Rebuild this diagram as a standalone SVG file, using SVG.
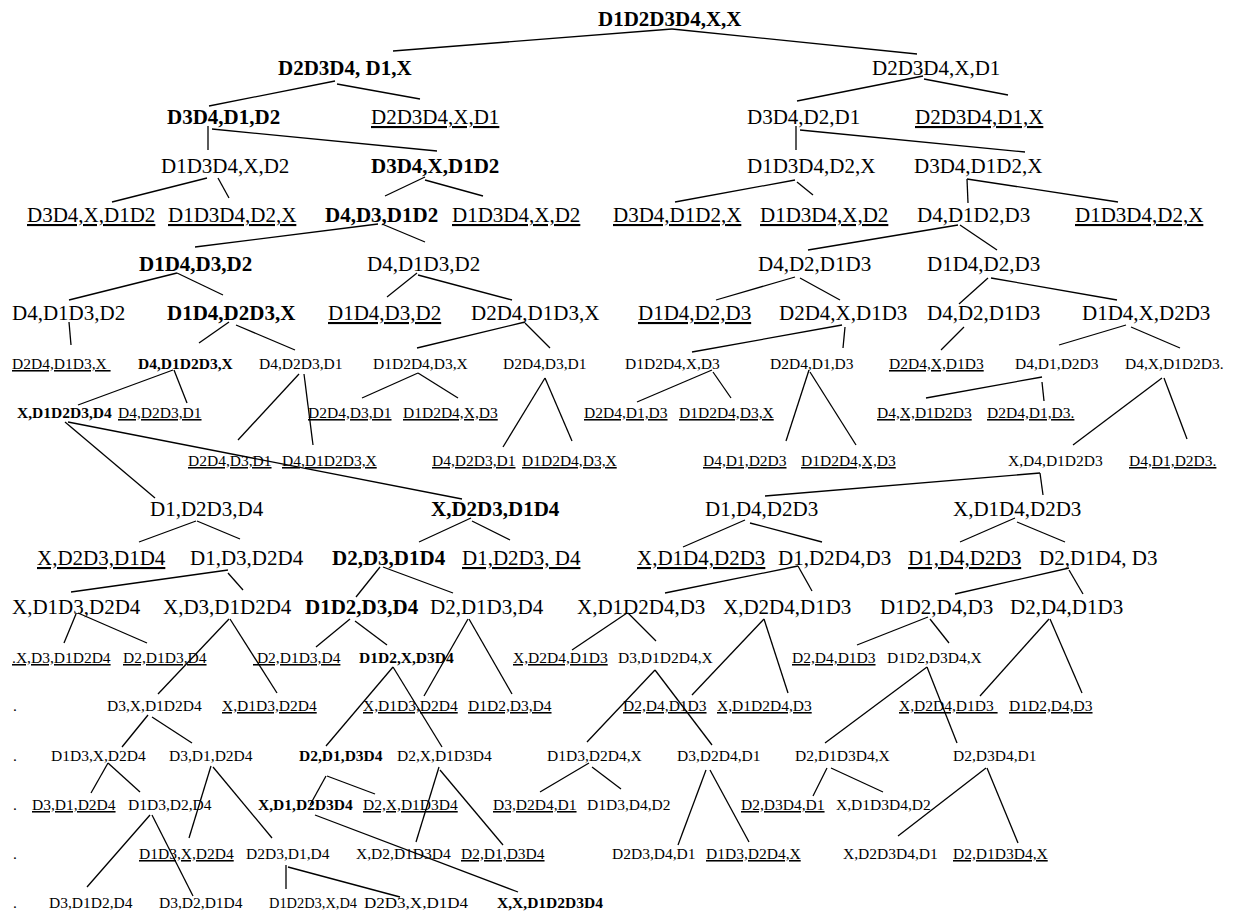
<svg xmlns="http://www.w3.org/2000/svg" width="1234" height="913" viewBox="0 0 1234 913">
<style>
text{font-family:"Liberation Serif","Times New Roman",serif;fill:#000}
.L{font-size:21px}
.S{font-size:15.5px}
.b{font-weight:bold}
.u{text-decoration:underline}
#connectors line{stroke:#000;stroke-width:1.3;fill:none}
</style>
<rect width="1234" height="913" fill="#fff"/>
<g id="connectors">
<line x1="672" y1="29" x2="393" y2="51"/><line x1="672" y1="29" x2="917" y2="54"/>
<line x1="335" y1="81" x2="209" y2="106"/><line x1="337" y1="84" x2="420" y2="99"/>
<line x1="923" y1="76" x2="797" y2="101"/><line x1="924" y1="79" x2="1008" y2="95"/>
<line x1="208" y1="126" x2="208" y2="150"/><line x1="212" y1="129" x2="437" y2="151"/>
<line x1="796" y1="126" x2="796" y2="150"/><line x1="800" y1="130" x2="1025" y2="152"/>
<line x1="207" y1="178" x2="112" y2="202"/><line x1="218" y1="178" x2="229" y2="198"/>
<line x1="425" y1="177" x2="385" y2="196"/><line x1="425" y1="180" x2="483" y2="196"/>
<line x1="795" y1="180" x2="675" y2="202"/><line x1="797" y1="182" x2="813" y2="195"/>
<line x1="967" y1="179" x2="968" y2="203"/><line x1="967" y1="179" x2="1118" y2="202"/>
<line x1="378" y1="224" x2="195" y2="247"/><line x1="382" y1="224" x2="425" y2="242"/>
<line x1="958" y1="225" x2="808" y2="250"/><line x1="960" y1="225" x2="997" y2="250"/>
<line x1="177" y1="273" x2="69" y2="300"/><line x1="177" y1="273" x2="223" y2="295"/>
<line x1="417" y1="273" x2="387" y2="297"/><line x1="418" y1="275" x2="512" y2="300"/>
<line x1="795" y1="277" x2="716" y2="300"/><line x1="800" y1="278" x2="840" y2="300"/>
<line x1="988" y1="278" x2="959" y2="304"/><line x1="991" y1="278" x2="1117" y2="300"/>
<line x1="69" y1="322" x2="71" y2="345"/>
<line x1="229" y1="322" x2="199" y2="343"/><line x1="236" y1="325" x2="295" y2="350"/>
<line x1="525" y1="322" x2="417" y2="348"/><line x1="525" y1="323" x2="550" y2="348"/>
<line x1="842" y1="325" x2="692" y2="352"/><line x1="845" y1="327" x2="843" y2="348"/>
<line x1="964" y1="327" x2="941" y2="350"/>
<line x1="1126" y1="325" x2="1059" y2="345"/><line x1="1131" y1="327" x2="1180" y2="348"/>
<line x1="173" y1="370" x2="78" y2="405"/><line x1="174" y1="370" x2="187" y2="403"/>
<line x1="299" y1="374" x2="238" y2="440"/><line x1="304" y1="374" x2="313" y2="445"/>
<line x1="418" y1="373" x2="362" y2="398"/><line x1="418" y1="373" x2="458" y2="398"/>
<line x1="545" y1="378" x2="503" y2="447"/><line x1="545" y1="378" x2="572" y2="441"/>
<line x1="712" y1="370" x2="637" y2="402"/><line x1="713" y1="372" x2="731" y2="398"/>
<line x1="809" y1="370" x2="786" y2="441"/><line x1="810" y1="372" x2="856" y2="445"/>
<line x1="1042" y1="377" x2="926" y2="398"/><line x1="1042" y1="382" x2="1044" y2="401"/>
<line x1="1162" y1="378" x2="1073" y2="445"/><line x1="1164" y1="378" x2="1187" y2="439"/>
<line x1="65" y1="422" x2="155" y2="498"/><line x1="68" y1="422" x2="462" y2="499"/>
<line x1="1040" y1="473" x2="765" y2="496"/><line x1="1040" y1="473" x2="1043" y2="495"/>
<line x1="196" y1="521" x2="139" y2="542"/><line x1="197" y1="521" x2="240" y2="539"/>
<line x1="471" y1="518" x2="419" y2="542"/><line x1="472" y1="521" x2="510" y2="540"/>
<line x1="745" y1="520" x2="683" y2="547"/><line x1="750" y1="523" x2="822" y2="542"/>
<line x1="1015" y1="518" x2="960" y2="542"/><line x1="1017" y1="522" x2="1065" y2="542"/>
<line x1="228" y1="570" x2="71" y2="592"/><line x1="228" y1="573" x2="243" y2="590"/>
<line x1="380" y1="567" x2="356" y2="597"/><line x1="383" y1="567" x2="453" y2="593"/>
<line x1="798" y1="566" x2="665" y2="593"/><line x1="798" y1="566" x2="812" y2="591"/>
<line x1="1069" y1="568" x2="955" y2="594"/><line x1="1069" y1="570" x2="1083" y2="594"/>
<line x1="76" y1="614" x2="64" y2="643"/><line x1="78" y1="613" x2="147" y2="643"/>
<line x1="229" y1="619" x2="158" y2="694"/><line x1="230" y1="619" x2="277" y2="693"/>
<line x1="350" y1="619" x2="316" y2="647"/><line x1="355" y1="621" x2="387" y2="645"/>
<line x1="468" y1="619" x2="424" y2="696"/><line x1="469" y1="619" x2="512" y2="694"/>
<line x1="627" y1="613" x2="572" y2="650"/><line x1="628" y1="613" x2="656" y2="641"/>
<line x1="764" y1="619" x2="692" y2="695"/><line x1="764" y1="619" x2="788" y2="693"/>
<line x1="928" y1="617" x2="857" y2="645"/><line x1="930" y1="619" x2="949" y2="643"/>
<line x1="1049" y1="619" x2="980" y2="696"/><line x1="1050" y1="619" x2="1082" y2="693"/>
<line x1="393" y1="667" x2="326" y2="746"/><line x1="393" y1="667" x2="442" y2="747"/>
<line x1="655" y1="670" x2="587" y2="742"/><line x1="655" y1="670" x2="712" y2="745"/>
<line x1="927" y1="667" x2="825" y2="743"/><line x1="927" y1="667" x2="957" y2="743"/>
<line x1="148" y1="715" x2="122" y2="747"/><line x1="152" y1="717" x2="192" y2="743"/>
<line x1="108" y1="763" x2="91" y2="793"/><line x1="108" y1="763" x2="140" y2="792"/>
<line x1="211" y1="766" x2="189" y2="838"/><line x1="213" y1="767" x2="272" y2="838"/>
<line x1="326" y1="776" x2="310" y2="805"/><line x1="327" y1="776" x2="375" y2="794"/>
<line x1="439" y1="767" x2="416" y2="842"/><line x1="440" y1="770" x2="503" y2="845"/>
<line x1="589" y1="763" x2="540" y2="792"/><line x1="592" y1="767" x2="621" y2="789"/>
<line x1="706" y1="770" x2="678" y2="845"/><line x1="710" y1="770" x2="749" y2="842"/>
<line x1="827" y1="768" x2="813" y2="796"/><line x1="831" y1="768" x2="883" y2="792"/>
<line x1="986" y1="768" x2="898" y2="836"/><line x1="987" y1="768" x2="1018" y2="843"/>
<line x1="150" y1="815" x2="87" y2="887"/><line x1="152" y1="815" x2="193" y2="896"/>
<line x1="315" y1="815" x2="518" y2="892"/>
<line x1="286" y1="865" x2="286" y2="889"/><line x1="288" y1="867" x2="400" y2="897"/>
</g>
<g id="n_a1"><text class="L b" x="598" y="26">D1D2D3D4,X,X</text></g>
<g id="n_b1"><text class="L b" x="278" y="75">D2D3D4, D1,X</text></g>
<g id="n_b2"><text class="L" x="872" y="75">D2D3D4,X,D1</text></g>
<g id="n_c1"><text class="L b" x="167" y="124">D3D4,D1,D2</text></g>
<g id="n_c2"><text class="L u" x="371" y="124">D2D3D4,X,D1</text></g>
<g id="n_c3"><text class="L" x="747" y="124">D3D4,D2,D1</text></g>
<g id="n_c4"><text class="L u" x="915" y="124">D2D3D4,D1,X</text></g>
<g id="n_d1"><text class="L" x="161" y="173">D1D3D4,X,D2</text></g>
<g id="n_d2"><text class="L b" x="371" y="173">D3D4,X,D1D2</text></g>
<g id="n_d3"><text class="L" x="747" y="173">D1D3D4,D2,X</text></g>
<g id="n_d4"><text class="L" x="914" y="173">D3D4,D1D2,X</text></g>
<g id="n_e1"><text class="L u" x="27" y="222">D3D4,X,D1D2</text></g>
<g id="n_e2"><text class="L u" x="168" y="222">D1D3D4,D2,X</text></g>
<g id="n_e3"><text class="L b" x="325" y="222">D4,D3,D1D2</text></g>
<g id="n_e4"><text class="L u" x="452" y="222">D1D3D4,X,D2</text></g>
<g id="n_e5"><text class="L u" x="613" y="222">D3D4,D1D2,X</text></g>
<g id="n_e6"><text class="L u" x="760" y="222">D1D3D4,X,D2</text></g>
<g id="n_e7"><text class="L" x="917" y="222">D4,D1D2,D3</text></g>
<g id="n_e8"><text class="L u" x="1075" y="222">D1D3D4,D2,X</text></g>
<g id="n_f1"><text class="L b" x="139" y="271">D1D4,D3,D2</text></g>
<g id="n_f2"><text class="L" x="367" y="271">D4,D1D3,D2</text></g>
<g id="n_f3"><text class="L" x="758" y="271">D4,D2,D1D3</text></g>
<g id="n_f4"><text class="L" x="927" y="271">D1D4,D2,D3</text></g>
<g id="n_g1"><text class="L" x="12" y="320">D4,D1D3,D2</text></g>
<g id="n_g2"><text class="L b" x="167" y="320">D1D4,D2D3,X</text></g>
<g id="n_g3"><text class="L u" x="328" y="320">D1D4,D3,D2</text></g>
<g id="n_g4"><text class="L" x="471" y="320">D2D4,D1D3,X</text></g>
<g id="n_g5"><text class="L u" x="638" y="320">D1D4,D2,D3</text></g>
<g id="n_g6"><text class="L" x="779" y="320">D2D4,X,D1D3</text></g>
<g id="n_g7"><text class="L" x="927" y="320">D4,D2,D1D3</text></g>
<g id="n_g8"><text class="L" x="1082" y="320">D1D4,X,D2D3</text></g>
<g id="n_h1"><text class="S u" x="12" y="369" xml:space="preserve">D2D4,D1D3,X </text></g>
<g id="n_h2"><text class="S b" x="138" y="369">D4,D1D2D3,X</text></g>
<g id="n_h3"><text class="S" x="259" y="369">D4,D2D3,D1</text></g>
<g id="n_h4"><text class="S" x="373" y="369">D1D2D4,D3,X</text></g>
<g id="n_h5"><text class="S" x="503" y="369">D2D4,D3,D1</text></g>
<g id="n_h6"><text class="S" x="625" y="369">D1D2D4,X,D3</text></g>
<g id="n_h7"><text class="S" x="770" y="369">D2D4,D1,D3</text></g>
<g id="n_h8"><text class="S u" x="889" y="369">D2D4,X,D1D3</text></g>
<g id="n_h9"><text class="S" x="1015" y="369">D4,D1,D2D3</text></g>
<g id="n_h10"><text class="S" x="1125" y="369">D4,X,D1D2D3.</text></g>
<g id="n_i1"><text class="S b" x="17" y="418">X,D1D2D3,D4</text></g>
<g id="n_i2"><text class="S u" x="118" y="418">D4,D2D3,D1</text></g>
<g id="n_i3"><text class="S u" x="308" y="418">D2D4,D3,D1</text></g>
<g id="n_i4"><text class="S u" x="403" y="418">D1D2D4,X,D3</text></g>
<g id="n_i5"><text class="S u" x="584" y="418">D2D4,D1,D3</text></g>
<g id="n_i6"><text class="S u" x="679" y="418">D1D2D4,D3,X</text></g>
<g id="n_i7"><text class="S u" x="877" y="418">D4,X,D1D2D3</text></g>
<g id="n_i8"><text class="S u" x="987" y="418">D2D4,D1,D3.</text></g>
<g id="n_j1"><text class="S u" x="188" y="466">D2D4,D3,D1</text></g>
<g id="n_j2"><text class="S u" x="282" y="466">D4,D1D2D3,X</text></g>
<g id="n_j3"><text class="S u" x="432" y="466">D4,D2D3,D1</text></g>
<g id="n_j4"><text class="S u" x="522" y="466">D1D2D4,D3,X</text></g>
<g id="n_j5"><text class="S u" x="703" y="466">D4,D1,D2D3</text></g>
<g id="n_j6"><text class="S u" x="801" y="466">D1D2D4,X,D3</text></g>
<g id="n_j7"><text class="S" x="1008" y="466">X,D4,D1D2D3</text></g>
<g id="n_j8"><text class="S u" x="1129" y="466">D4,D1,D2D3.</text></g>
<g id="n_k1"><text class="L" x="150" y="516">D1,D2D3,D4</text></g>
<g id="n_k2"><text class="L b" x="431" y="516">X,D2D3,D1D4</text></g>
<g id="n_k3"><text class="L" x="705" y="516">D1,D4,D2D3</text></g>
<g id="n_k4"><text class="L" x="953" y="516">X,D1D4,D2D3</text></g>
<g id="n_l1"><text class="L u" x="37" y="565">X,D2D3,D1D4</text></g>
<g id="n_l2"><text class="L" x="190" y="565">D1,D3,D2D4</text></g>
<g id="n_l3"><text class="L b" x="332" y="565">D2,D3,D1D4</text></g>
<g id="n_l4"><text class="L u" x="462" y="565">D1,D2D3, D4</text></g>
<g id="n_l5"><text class="L u" x="637" y="565">X,D1D4,D2D3</text></g>
<g id="n_l6"><text class="L" x="778" y="565">D1,D2D4,D3</text></g>
<g id="n_l7"><text class="L u" x="908" y="565">D1,D4,D2D3</text></g>
<g id="n_l8"><text class="L" x="1039" y="565">D2,D1D4, D3</text></g>
<g id="n_m1"><text class="L" x="12" y="614">X,D1D3,D2D4</text></g>
<g id="n_m2"><text class="L" x="163" y="614">X,D3,D1D2D4</text></g>
<g id="n_m3"><text class="L b" x="305" y="614">D1D2,D3,D4</text></g>
<g id="n_m4"><text class="L" x="430" y="614">D2,D1D3,D4</text></g>
<g id="n_m5"><text class="L" x="577" y="614">X,D1D2D4,D3</text></g>
<g id="n_m6"><text class="L" x="723" y="614">X,D2D4,D1D3</text></g>
<g id="n_m7"><text class="L" x="880" y="614">D1D2,D4,D3</text></g>
<g id="n_m8"><text class="L" x="1010" y="614">D2,D4,D1D3</text></g>
<g id="n_n1"><text class="S u" x="12" y="663">.X,D3,D1D2D4</text></g>
<g id="n_n2"><text class="S u" x="123" y="663">D2,D1D3,D4</text></g>
<g id="n_n3"><text class="S u" x="253" y="663" xml:space="preserve"> D2,D1D3,D4</text></g>
<g id="n_n4"><text class="S b" x="359" y="663">D1D2,X,D3D4</text></g>
<g id="n_n5"><text class="S u" x="513" y="663">X,D2D4,D1D3</text></g>
<g id="n_n6"><text class="S" x="618" y="663">D3,D1D2D4,X</text></g>
<g id="n_n7"><text class="S u" x="792" y="663">D2,D4,D1D3</text></g>
<g id="n_n8"><text class="S" x="887" y="663">D1D2,D3D4,X</text></g>
<g id="n_o0"><text class="S" x="13" y="711">.</text></g>
<g id="n_o1"><text class="S" x="107" y="711">D3,X,D1D2D4</text></g>
<g id="n_o2"><text class="S u" x="222" y="711">X,D1D3,D2D4</text></g>
<g id="n_o3"><text class="S u" x="363" y="711">X,D1D3,D2D4</text></g>
<g id="n_o4"><text class="S u" x="468" y="711">D1D2,D3,D4</text></g>
<g id="n_o5"><text class="S u" x="623" y="711">D2,D4,D1D3</text></g>
<g id="n_o6"><text class="S u" x="717" y="711">X,D1D2D4,D3</text></g>
<g id="n_o7"><text class="S u" x="899" y="711" xml:space="preserve">X,D2D4,D1D3 </text></g>
<g id="n_o8"><text class="S u" x="1009" y="711">D1D2,D4,D3</text></g>
<g id="n_p0"><text class="S" x="13" y="761">.</text></g>
<g id="n_p1"><text class="S" x="51" y="761">D1D3,X,D2D4</text></g>
<g id="n_p2"><text class="S" x="169" y="761">D3,D1,D2D4</text></g>
<g id="n_p3"><text class="S b" x="299" y="761">D2,D1,D3D4</text></g>
<g id="n_p4"><text class="S" x="397" y="761">D2,X,D1D3D4</text></g>
<g id="n_p5"><text class="S" x="547" y="761">D1D3,D2D4,X</text></g>
<g id="n_p6"><text class="S" x="677" y="761">D3,D2D4,D1</text></g>
<g id="n_p7"><text class="S" x="795" y="761">D2,D1D3D4,X</text></g>
<g id="n_p8"><text class="S" x="953" y="761">D2,D3D4,D1</text></g>
<g id="n_q0"><text class="S" x="13" y="810">.</text></g>
<g id="n_q1"><text class="S u" x="32" y="810">D3,D1,D2D4</text></g>
<g id="n_q2"><text class="S" x="128" y="810">D1D3,D2,D4</text></g>
<g id="n_q3"><text class="S b" x="258" y="810">X,D1,D2D3D4</text></g>
<g id="n_q4"><text class="S u" x="363" y="810">D2,X,D1D3D4</text></g>
<g id="n_q5"><text class="S u" x="493" y="810">D3,D2D4,D1</text></g>
<g id="n_q6"><text class="S" x="587" y="810">D1D3,D4,D2</text></g>
<g id="n_q7"><text class="S u" x="741" y="810">D2,D3D4,D1</text></g>
<g id="n_q8"><text class="S" x="836" y="810">X,D1D3D4,D2</text></g>
<g id="n_r0"><text class="S" x="13" y="859">.</text></g>
<g id="n_r1"><text class="S u" x="139" y="859">D1D3,X,D2D4</text></g>
<g id="n_r2"><text class="S" x="246" y="859">D2D3,D1,D4</text></g>
<g id="n_r3"><text class="S" x="356" y="859">X,D2,D1D3D4</text></g>
<g id="n_r4"><text class="S u" x="461" y="859">D2,D1,D3D4</text></g>
<g id="n_r5"><text class="S" x="612" y="859">D2D3,D4,D1</text></g>
<g id="n_r6"><text class="S u" x="706" y="859">D1D3,D2D4,X</text></g>
<g id="n_r7"><text class="S" x="843" y="859">X,D2D3D4,D1</text></g>
<g id="n_r8"><text class="S u" x="953" y="859">D2,D1D3D4,X</text></g>
<g id="n_s0"><text class="S" x="13" y="908">.</text></g>
<g id="n_s1"><text class="S" x="49" y="908">D3,D1D2,D4</text></g>
<g id="n_s2"><text class="S" x="159" y="908">D3,D2,D1D4</text></g>
<g id="n_s3"><text class="S" x="269" y="908" textLength="88" lengthAdjust="spacingAndGlyphs">D1D2D3,X,D4</text></g>
<g id="n_s4"><text class="S" x="364" y="908" textLength="104" lengthAdjust="spacingAndGlyphs">D2D3,X,D1D4</text></g>
<g id="n_s5"><text class="S b" x="497" y="908">X,X,D1D2D3D4</text></g>
</svg>
